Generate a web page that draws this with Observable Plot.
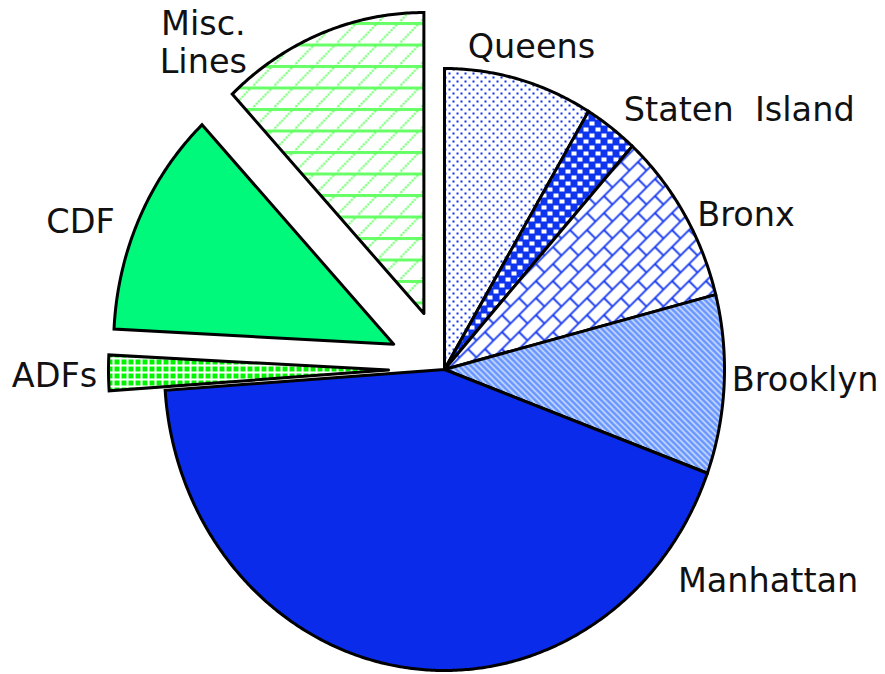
<!DOCTYPE html>
<html>
<head>
<meta charset="utf-8">
<script src="https://cdn.jsdelivr.net/npm/d3@7"></script>
<script src="https://cdn.jsdelivr.net/npm/@observablehq/plot@0.6"></script>
<style>
  html, body { margin: 0; padding: 0; background: #fff; }
</style>
</head>
<body>
<div id="chart"></div>
<script>
// ---- data (share of total, %), clockwise from 12 o'clock ----
const categories = ["Queens", "Staten Island", "Bronx", "Brooklyn", "Manhattan", "ADFs", "CDF", "Misc. Lines"];
const shares = [8.6, 3.1, 9.3, 9.6, 43.3, 1.9, 12.2, 12.0];
const displayLabels = ["Queens", "Staten\u00a0 Island", "Bronx", "Brooklyn", "Manhattan", "ADFs", "CDF", "Misc.\nLines"];

// ---- layout / styling config ----
const W = 885, H = 674;
const CX = 444, CY = 369, RX = 280, RY = 301;
const explodedSlices = ["ADFs", "CDF", "Misc. Lines"];
const EXPLODE = 0.2;
const LABEL_R = 1.15;
const fills = {
  "Queens": "url(#pQueens)",
  "Staten Island": "url(#pStaten)",
  "Bronx": "url(#pBronx)",
  "Brooklyn": "url(#pBrooklyn)",
  "Manhattan": "#0a2be9",
  "ADFs": "url(#pADF)",
  "CDF": "#00f87b",
  "Misc. Lines": "url(#pMisc)"
};
const labelNudge = {
  "Queens": [1, 10],
  "Staten Island": [103, 17],
  "Bronx": [26, 23],
  "Brooklyn": [39, -8],
  "Manhattan": [369, -132],
  "ADFs": [-12, 1],
  "CDF": [-21, 22],
  "Misc. Lines": [-102, 50]
};

// ---- geometry from data ----
const table = categories.map((c, i) => ({category: c, share: shares[i], label: displayLabels[i]}));
const arcs = d3.pie().sort(null).value(d => d.share).startAngle(0).endAngle(2 * Math.PI)(table);

const slices = arcs.map(a => {
  const name = a.data.category;
  const mid = (a.startAngle + a.endAngle) / 2;
  const e = explodedSlices.includes(name) ? EXPLODE : 0;
  const ox = e * Math.sin(mid), oy = e * Math.cos(mid);
  const pts = [{x: ox, y: oy}];
  const n = Math.max(4, Math.ceil((a.endAngle - a.startAngle) / (Math.PI / 360)));
  for (let k = 0; k <= n; ++k) {
    const t = a.startAngle + (a.endAngle - a.startAngle) * k / n;
    pts.push({x: ox + Math.sin(t), y: oy + Math.cos(t)});
  }
  pts.push({x: ox, y: oy});
  return {name, pts, fill: fills[name],
    label: {x: ox + LABEL_R * Math.sin(mid), y: oy + LABEL_R * Math.cos(mid),
            text: a.data.label, dx: labelNudge[name][0], dy: labelNudge[name][1]}};
});

const plot = Plot.plot({
  width: W,
  height: H,
  margin: 0,
  x: {domain: [-CX / RX, (W - CX) / RX], axis: null},
  y: {domain: [-(H - CY) / RY, CY / RY], axis: null},
  style: {background: "#fff", overflow: "visible"},
  marks: [
    ...slices.map(s => Plot.line(s.pts, {
      x: "x", y: "y", fill: s.fill, stroke: "black", strokeWidth: 3,
      strokeLinejoin: "miter", strokeMiterlimit: 6
    })),
    ...slices.map(s => Plot.text([s.label], {
      x: "x", y: "y", text: "text", dx: s.label.dx, dy: s.label.dy,
      fontSize: 33.5, fontFamily: "DejaVu Sans", fill: "#111", lineHeight: 1.14
    }))
  ]
});

// ---- fill patterns ----
const defs = d3.select(plot).insert("defs", ":first-child");
function pattern(id, w, h, extra) {
  const p = defs.append("pattern").attr("id", id).attr("patternUnits", "userSpaceOnUse")
    .attr("width", w).attr("height", h).attr("shape-rendering", "crispEdges");
  if (extra) p.attr("patternTransform", extra);
  return p;
}
// Queens: blue dots on white
{
  const p = pattern("pQueens", 8, 8);
  p.append("rect").attr("width", 8).attr("height", 8).attr("fill", "#fff");
  p.append("rect").attr("x", 0).attr("y", 0).attr("width", 2).attr("height", 2).attr("fill", "#0d30ee");
  p.append("rect").attr("x", 4).attr("y", 4).attr("width", 2).attr("height", 2).attr("fill", "#0d30ee");
}
// Staten Island: blue checker with white cells
{
  const p = pattern("pStaten", 12, 12);
  p.append("rect").attr("width", 12).attr("height", 12).attr("fill", "#0f34ee");
  p.append("rect").attr("x", 1).attr("y", 1).attr("width", 5).attr("height", 4).attr("fill", "#fff");
  p.append("rect").attr("x", 7).attr("y", 7).attr("width", 5).attr("height", 4).attr("fill", "#fff");
}
// Bronx: blue diagonal lattice on white
{
  const p = pattern("pBronx", 17, 17);
  p.append("rect").attr("width", 17).attr("height", 17).attr("fill", "#fff");
  p.append("path").attr("d", "M-1,18 L18,-1 M8.5,8.5 L17,17 M-2,2 L2,-2 M15,19 L19,15")
    .attr("stroke", "#1538f0").attr("stroke-width", 1.8).attr("fill", "none")
    .attr("shape-rendering", "auto");
}
// Brooklyn: light blue with white downward diagonal stripes
{
  const p = pattern("pBrooklyn", 6, 6);
  p.append("rect").attr("width", 6).attr("height", 6).attr("fill", "#6896ff");
  p.append("path").attr("d", "M-1,-1 L7,7 M-1,5 L1,7 M5,-1 L7,1")
    .attr("stroke", "#fff").attr("stroke-width", 1.1).attr("fill", "none")
    .attr("shape-rendering", "auto");
}
// ADFs: green squares with white grid
{
  const p = pattern("pADF", 7, 7);
  p.append("rect").attr("width", 7).attr("height", 7).attr("fill", "#fff");
  p.append("rect").attr("x", 2).attr("y", 2).attr("width", 5).attr("height", 5).attr("fill", "#00f400");
}
// Misc. Lines: light green horizontal lines with diagonal hatch
{
  const p = pattern("pMisc", 21, 21.5);
  p.attr("shape-rendering", "auto");
  p.append("rect").attr("width", 21).attr("height", 21.5).attr("fill", "#fff");
  p.append("path").attr("d", "M-1,22.5 L22,-1").attr("stroke", "#66ff66").attr("stroke-width", 2)
    .attr("stroke-dasharray", "2 1.2").attr("fill", "none");
  p.append("rect").attr("x", 0).attr("y", 0).attr("width", 21).attr("height", 3).attr("fill", "#66ff66");
}

document.getElementById("chart").appendChild(plot);
</script>
</body>
</html>
